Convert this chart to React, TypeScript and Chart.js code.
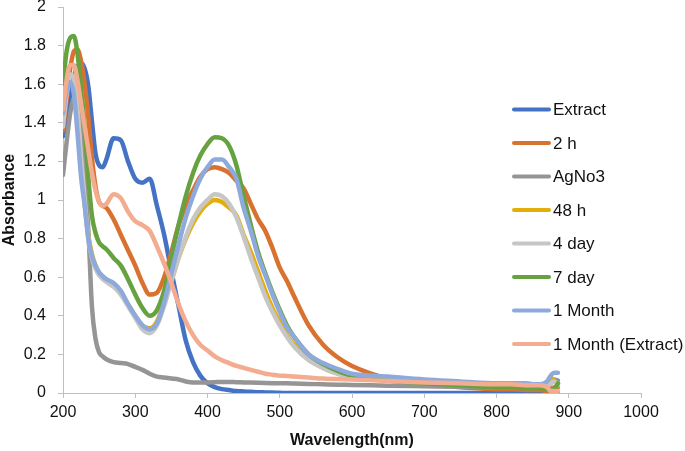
import React, { useEffect, useRef } from "react";
import { Chart, registerables } from "chart.js";

Chart.register(...registerables);

// Wavelength grid (nm)
const wavelengths = [
  200, 205, 210, 215, 220, 225, 230, 235, 240, 245,
  250, 255, 260, 270, 280, 290, 300, 310, 320, 330,
  340, 350, 360, 370, 380, 390, 400, 410, 420, 430,
  440, 450, 460, 470, 480, 490, 500, 510, 520, 540,
  560, 580, 600, 650, 700, 750, 800, 820, 840, 860,
  870, 875, 880, 885,
];

const extract = [
  1.33, 1.42, 1.55, 1.64, 1.69, 1.71, 1.68, 1.59, 1.41, 1.24,
  1.18, 1.17, 1.21, 1.32, 1.31, 1.2, 1.11, 1.09, 1.11, 0.97,
  0.82, 0.63, 0.45, 0.27, 0.16, 0.09, 0.05, 0.03, 0.02, 0.015,
  0.01, 0.008, 0.006, 0.004, 0.003, 0.002, 0.001, 0, 0, 0,
  0, 0, 0, 0, 0, 0, 0, 0, 0, 0,
  0, 0, 0, 0,
];

const twoH = [
  1.36, 1.52, 1.68, 1.77, 1.78, 1.72, 1.6, 1.43, 1.22, 1.07,
  0.99, 0.97, 0.96, 0.9, 0.82, 0.74, 0.66, 0.57, 0.51, 0.52,
  0.6, 0.73, 0.87, 0.97, 1.05, 1.12, 1.16, 1.17, 1.16, 1.14,
  1.1, 1.06, 0.98, 0.9, 0.84, 0.75, 0.65, 0.58, 0.5, 0.35,
  0.25, 0.185, 0.14, 0.075, 0.045, 0.03, 0.02, 0.02, 0.015, 0.015,
  0.01, 0.02, 0.03, 0.03,
];

const agNo3 = [
  1.13, 1.3, 1.45, 1.52, 1.5, 1.38, 1.1, 0.85, 0.45, 0.28,
  0.21, 0.19, 0.175, 0.16, 0.155, 0.15, 0.135, 0.12, 0.1, 0.085,
  0.08, 0.075, 0.07, 0.06, 0.055, 0.055, 0.055, 0.056, 0.057, 0.057,
  0.056, 0.055, 0.054, 0.053, 0.052, 0.051, 0.05, 0.05, 0.049, 0.047,
  0.045, 0.043, 0.042, 0.038, 0.035, 0.032, 0.03, 0.03, 0.03, 0.03,
  0.035, 0.05, 0.07, 0.065,
];

const h48 = [
  1.42, 1.55, 1.62, 1.6, 1.45, 1.2, 0.98, 0.82, 0.72, 0.66,
  0.62, 0.6, 0.585, 0.56, 0.52, 0.46, 0.4, 0.35, 0.335, 0.37,
  0.47, 0.58, 0.7, 0.8, 0.88, 0.94, 0.98, 1.0, 0.99, 0.96,
  0.92, 0.82, 0.73, 0.63, 0.53, 0.44, 0.37, 0.3, 0.25, 0.175,
  0.13, 0.1, 0.085, 0.07, 0.06, 0.055, 0.045, 0.05, 0.05, 0.04,
  0.045, 0.08, 0.06, 0.05,
];

const day4 = [
  1.38, 1.55, 1.65, 1.63, 1.47, 1.22, 1.0, 0.8, 0.7, 0.645,
  0.61, 0.59, 0.575, 0.55, 0.51, 0.45, 0.39, 0.33, 0.31, 0.35,
  0.45, 0.58, 0.7, 0.81, 0.9, 0.96, 1.0, 1.03, 1.02, 0.98,
  0.91, 0.81, 0.7, 0.6, 0.5, 0.42, 0.35, 0.29, 0.24, 0.17,
  0.13, 0.1, 0.085, 0.065, 0.055, 0.05, 0.04, 0.04, 0.04, 0.035,
  0.04, 0.05, 0.06, 0.04,
];

const day7 = [
  1.6, 1.77, 1.84, 1.85, 1.76, 1.58, 1.38, 1.12, 0.92, 0.83,
  0.78, 0.76, 0.745, 0.7, 0.66, 0.59, 0.51, 0.44, 0.4, 0.43,
  0.53, 0.7, 0.87, 1.02, 1.14, 1.23, 1.29, 1.325, 1.32, 1.28,
  1.18, 1.02, 0.87, 0.73, 0.62, 0.52, 0.43, 0.35, 0.29, 0.2,
  0.15, 0.115, 0.09, 0.065, 0.05, 0.04, 0.03, 0.03, 0.025, 0.025,
  0.02, 0.01, 0.02, 0.05,
];

const month1 = [
  1.45, 1.57, 1.61, 1.55, 1.35, 1.12, 0.97, 0.8, 0.71, 0.66,
  0.625, 0.605, 0.59, 0.57, 0.53, 0.46, 0.4, 0.35, 0.33, 0.36,
  0.47, 0.62, 0.77, 0.91, 1.02, 1.11, 1.17, 1.21, 1.21, 1.17,
  1.11, 0.96, 0.84, 0.71, 0.61, 0.51, 0.42, 0.34, 0.29, 0.2,
  0.155, 0.125, 0.1, 0.085, 0.07, 0.06, 0.05, 0.05, 0.045, 0.045,
  0.06, 0.09, 0.105, 0.105,
];

const month1Extract = [
  1.47, 1.62, 1.7, 1.7, 1.62, 1.5, 1.38, 1.26, 1.14, 1.05,
  0.99, 0.97, 0.98, 1.03, 1.01, 0.94, 0.89, 0.87, 0.84, 0.76,
  0.67, 0.57, 0.46, 0.37, 0.3, 0.25, 0.22, 0.19, 0.17, 0.155,
  0.14, 0.13, 0.12, 0.11, 0.1, 0.095, 0.09, 0.088, 0.085, 0.08,
  0.075, 0.072, 0.07, 0.062, 0.055, 0.05, 0.045, 0.045, 0.04, 0.04,
  0.03, 0.01, 0.01, 0.01,
];

const seriesLabels = ["Extract", "2 h", "AgNo3", "48 h", "4 day", "7 day", "1 Month", "1 Month (Extract)"];
const seriesValues = [extract, twoH, agNo3, h48, day4, day7, month1, month1Extract];
const seriesColors = ["#4472C4", "#D9722F", "#959595", "#E4AE08", "#C6C6C6", "#67A240", "#8EA9DB", "#F3AC8F"];

const xTicks = { min: 200, max: 1000, step: 100 };
const yTicks = { min: 0, max: 2, step: 0.2 };

const FONT = '"Liberation Sans", Arial, sans-serif';

const sideLegend = {
  id: "sideLegend",
  afterDraw(chart: any) {
    const ctx = chart.ctx;
    ctx.save();
    chart.data.datasets.forEach((ds: any, i: number) => {
      const y = 109.5 + i * 33.5;
      ctx.strokeStyle = ds.borderColor;
      ctx.lineWidth = 4;
      ctx.lineCap = "round";
      ctx.beginPath();
      ctx.moveTo(514, y);
      ctx.lineTo(549, y);
      ctx.stroke();
      ctx.fillStyle = "#111";
      ctx.font = `17px ${FONT}`;
      ctx.textBaseline = "middle";
      ctx.textAlign = "left";
      ctx.fillText(ds.label, 553, y + 1);
    });
    ctx.restore();
  },
};

export default function App() {
  const ref = useRef<HTMLCanvasElement>(null);

  useEffect(() => {
    document.body.style.margin = "0";
    const n = seriesLabels.length;
    const chart = new Chart(ref.current as HTMLCanvasElement, {
      type: "line",
      data: {
        datasets: seriesLabels.map((label, i) => ({
          label,
          data: wavelengths.map((w, j) => ({ x: w, y: seriesValues[i][j] })),
          borderColor: seriesColors[i],
          backgroundColor: seriesColors[i],
          borderWidth: 4.5,
          pointRadius: 0,
          cubicInterpolationMode: "monotone" as const,
          borderCapStyle: "round" as const,
          borderJoinStyle: "round" as const,
          fill: false,
          order: n - i,
        })),
      },
      options: {
        responsive: false,
        animation: false,
        layout: { padding: { top: 7, right: 44, bottom: 0, left: 0 } },
        plugins: { legend: { display: false }, tooltip: { enabled: false } },
        scales: {
          x: {
            type: "linear",
            min: xTicks.min,
            max: xTicks.max,
            afterFit: (s: any) => {
              s.height = 58;
            },
            ticks: {
              stepSize: xTicks.step,
              color: "#111",
              padding: 5,
              font: { family: FONT, size: 16 },
              callback: (v: any) => String(v),
            },
            grid: { display: true, drawOnChartArea: false, drawTicks: true, tickLength: 5, color: "#BFBFBF" },
            border: { display: true, color: "#BFBFBF" },
            title: {
              display: true,
              text: "Wavelength(nm)",
              color: "#111",
              font: { family: FONT, size: 16, weight: "bold" },
              padding: { top: 0, bottom: 1 },
            },
          },
          y: {
            type: "linear",
            min: yTicks.min,
            max: yTicks.max,
            afterFit: (s: any) => {
              s.width = 63;
              s.paddingTop = 0;
              s.paddingBottom = 0;
            },
            ticks: {
              stepSize: yTicks.step,
              color: "#111",
              padding: 12,
              font: { family: FONT, size: 16 },
              callback: (v: any) => String(Number(Number(v).toFixed(1))),
            },
            grid: { display: true, drawOnChartArea: false, drawTicks: true, tickLength: 5, color: "#BFBFBF" },
            border: { display: true, color: "#BFBFBF" },
            title: {
              display: true,
              text: "Absorbance",
              color: "#111",
              font: { family: FONT, size: 16, weight: "bold" },
              padding: { top: 0, bottom: 0 },
            },
          },
        },
      },
      plugins: [sideLegend],
    });
    return () => chart.destroy();
  }, []);

  return (
    <div style={{ width: 685, height: 451 }}>
      <canvas ref={ref} width={685} height={451} />
    </div>
  );
}
